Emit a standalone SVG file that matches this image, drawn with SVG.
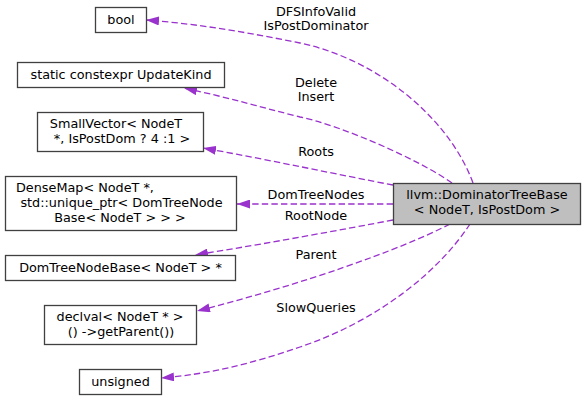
<svg xmlns="http://www.w3.org/2000/svg" width="585" height="401" viewBox="0 0 585 401">
<style>
.n{fill:#ffffff;stroke:#404040;stroke-width:1.3}
.m{fill:#bfbfbf;stroke:#404040;stroke-width:1.3}
text{font-family:"DejaVu Sans",sans-serif;font-size:12.8px;fill:#000000;text-anchor:middle}
.e{fill:none;stroke:#9a32cd;stroke-width:1.3;stroke-dasharray:6.4,3.2}
</style>
<defs>
<marker id="ah" markerUnits="userSpaceOnUse" viewBox="0 0 13 9" markerWidth="13" markerHeight="9" refX="13" refY="4.5" orient="auto">
<polygon points="0,0 13,4.5 0,9" fill="#9a32cd"/>
</marker>
</defs>
<rect width="585" height="401" fill="#ffffff"/>
<g id="edges">
<path class="e" marker-end="url(#ah)" d="M473,183 C450,120 380,60 300,43 C250,33 200,24 146,20"/>
<path class="e" marker-end="url(#ah)" d="M452,183 C420,160 340,125 300,117 C260,107 230,98 184,88"/>
<path class="e" marker-end="url(#ah)" d="M393,185 C340,175 270,160 203,148"/>
<path class="e" marker-end="url(#ah)" d="M393,204 L237,204"/>
<path class="e" marker-end="url(#ah)" d="M393,220 C340,230 270,243 195,255"/>
<path class="e" marker-end="url(#ah)" d="M450,224 C400,250 300,285 197,311"/>
<path class="e" marker-end="url(#ah)" d="M470,224 C440,270 380,320 300,347 C250,364 210,374 161,378"/>
<text x="316" y="16">DFSInfoValid</text>
<text x="316" y="30">IsPostDominator</text>
<text x="316" y="87">Delete</text>
<text x="316" y="101">Insert</text>
<text x="316" y="156">Roots</text>
<text x="316" y="199">DomTreeNodes</text>
<text x="316" y="220">RootNode</text>
<text x="316" y="259">Parent</text>
<text x="316" y="312">SlowQueries</text>
</g>
<g id="main">
<rect class="m" x="393.5" y="183.5" width="187" height="41"/>
<text x="487" y="199">llvm::DominatorTreeBase</text>
<text x="487" y="214">&lt; NodeT, IsPostDom &gt;</text>
</g>
<g id="bool">
<rect class="n" x="95.5" y="7.5" width="51" height="25"/>
<text x="121" y="24">bool</text>
</g>
<g id="updatekind">
<rect class="n" x="17.5" y="62.5" width="207" height="25"/>
<text x="121" y="79">static constexpr UpdateKind</text>
</g>
<g id="smallvector">
<rect class="n" x="37.5" y="112.5" width="166" height="39"/>
<text x="116" y="128">SmallVector&lt; NodeT</text>
<text x="122" y="143"> *, IsPostDom ? 4 :1 &gt;</text>
</g>
<g id="densemap">
<rect class="n" x="5.5" y="176.5" width="231" height="54"/>
<text x="16" y="192" style="text-anchor:start">DenseMap&lt; NodeT *,</text>
<text x="121.5" y="207"> std::unique_ptr&lt; DomTreeNode</text>
<text x="120" y="222">Base&lt; NodeT &gt; &gt; &gt;</text>
</g>
<g id="domtreenodebase">
<rect class="n" x="5.5" y="255.5" width="230" height="25"/>
<text x="120.5" y="272">DomTreeNodeBase&lt; NodeT &gt; *</text>
</g>
<g id="declval">
<rect class="n" x="44.5" y="305.5" width="152" height="39"/>
<text x="120" y="321">declval&lt; NodeT * &gt;</text>
<text x="121" y="336">() -&gt;getParent())</text>
</g>
<g id="unsigned">
<rect class="n" x="79.5" y="369.5" width="82" height="25"/>
<text x="120.5" y="386">unsigned</text>
</g>
</svg>
